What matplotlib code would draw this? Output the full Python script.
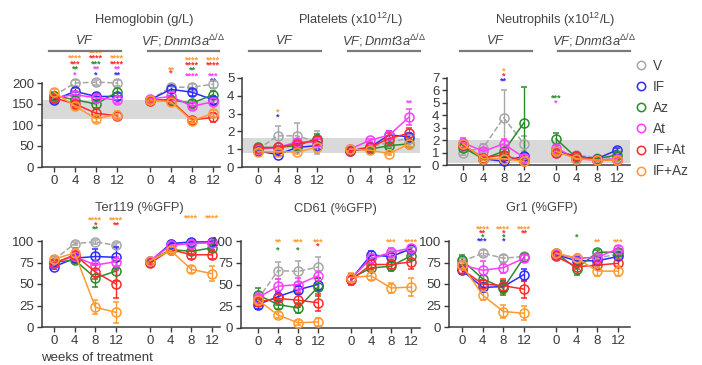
import matplotlib
matplotlib.use("Agg")
import matplotlib.pyplot as plt
from matplotlib.lines import Line2D

plt.rcParams['font.family'] = ['Liberation Sans', 'DejaVu Sans']
plt.rcParams['mathtext.fontset'] = 'custom'
plt.rcParams['mathtext.it'] = 'Liberation Sans:italic'
plt.rcParams['mathtext.rm'] = 'Liberation Sans'

W, H = 702, 365

# treatment groups and colours
groups = ["V", "IF", "Az", "At", "IF+At", "IF+Az"]
colors = ["#a6a6a6", "#2b2bff", "#2a8c2a", "#ff3cff", "#ff2a2a", "#ff9a30"]
weeks = [0, 4, 8, 12]
week_labels = ["0", "4", "8", "12", "0", "4", "8", "12"]

# each row: VF weeks 0,4,8,12 then VF;Dnmt3a weeks 0,4,8,12
hgb = [[170, 200, 202, 200, 160, 190, 190, 197],
       [160, 180, 168, 168, 160, 185, 178, 160],
       [170, 160, 150, 178, 160, 160, 152, 172],
       [165, 172, 165, 160, 162, 168, 145, 155],
       [165, 150, 128, 122, 158, 158, 112, 118],
       [178, 145, 115, 125, 160, 155, 110, 128]]
hgb_err = [[4, 6, 6, 6, 4, 8, 8, 8],
           [8, 8, 8, 8, 4, 8, 8, 10],
           [8, 8, 10, 10, 4, 8, 8, 8],
           [8, 8, 8, 8, 4, 8, 8, 8],
           [8, 8, 10, 8, 4, 6, 6, 10],
           [8, 8, 8, 8, 4, 6, 6, 8]]

plts = [[1.0, 1.75, 1.75, 1.4, 1.0, 1.1, 1.4, 1.6],
        [0.9, 0.7, 1.1, 1.2, 0.9, 1.1, 1.8, 1.7],
        [1.1, 1.1, 1.2, 1.6, 0.95, 1.0, 1.2, 1.3],
        [1.0, 1.1, 1.4, 1.4, 1.0, 1.5, 1.8, 2.8],
        [1.05, 1.1, 1.3, 1.5, 0.9, 1.1, 1.6, 1.9],
        [0.85, 0.85, 0.85, 1.1, 1.0, 0.95, 0.75, 1.3]]
plts_err = [[0.1, 0.55, 0.7, 0.65, 0.1, 0.1, 0.15, 0.2],
            [0.1, 0.1, 0.15, 0.2, 0.1, 0.1, 0.2, 0.2],
            [0.1, 0.1, 0.15, 0.25, 0.1, 0.1, 0.15, 0.15],
            [0.1, 0.1, 0.15, 0.15, 0.1, 0.1, 0.2, 0.45],
            [0.1, 0.1, 0.15, 0.2, 0.1, 0.1, 0.3, 0.3],
            [0.1, 0.1, 0.1, 0.25, 0.1, 0.1, 0.1, 0.15]]

neu = [[1.0, 1.4, 3.8, 1.7, 1.0, 0.8, 0.6, 0.6],
       [1.6, 0.5, 0.3, 0.7, 1.1, 0.7, 0.5, 1.2],
       [1.4, 0.5, 1.1, 3.4, 2.1, 0.6, 0.5, 0.8],
       [1.8, 1.1, 1.7, 0.6, 1.4, 0.5, 0.4, 0.5],
       [1.6, 0.6, 0.8, 0.3, 1.0, 0.7, 0.4, 0.4],
       [1.7, 0.5, 0.5, 0.3, 1.1, 0.5, 0.4, 0.4]]
neu_err = [[0.2, 0.3, 2.2, 0.6, 0.1, 0.1, 0.1, 0.1],
           [0.3, 0.1, 0.1, 0.2, 0.2, 0.1, 0.1, 0.2],
           [0.3, 0.1, 0.3, 2.9, 0.5, 0.1, 0.1, 0.2],
           [0.4, 0.2, 0.4, 0.2, 0.2, 0.1, 0.1, 0.1],
           [0.3, 0.1, 0.2, 0.1, 0.2, 0.1, 0.1, 0.1],
           [0.3, 0.1, 0.1, 0.1, 0.2, 0.1, 0.1, 0.1]]

ter = [[78, 97, 99, 95, 77, 96, 98, 98],
       [70, 80, 82, 81, 76, 97, 99, 99],
       [75, 78, 57, 65, 77, 90, 88, 92],
       [75, 82, 72, 76, 77, 95, 97, 98],
       [74, 84, 64, 50, 74, 90, 84, 84],
       [79, 86, 23, 17, 77, 89, 67, 62]]
ter_err = [[3, 2, 2, 3, 2, 2, 1, 1],
           [3, 4, 9, 12, 2, 2, 1, 1],
           [3, 4, 11, 12, 2, 2, 3, 3],
           [3, 4, 6, 5, 2, 2, 2, 1],
           [3, 8, 8, 16, 2, 5, 5, 5],
           [3, 4, 8, 12, 2, 3, 4, 9]]

cd61 = [[33, 66, 65, 70, 57, 80, 85, 90],
        [27, 36, 44, 50, 56, 84, 82, 91],
        [38, 27, 23, 47, 57, 69, 71, 83],
        [35, 48, 50, 60, 57, 80, 87, 92],
        [30, 34, 32, 29, 55, 73, 73, 76],
        [32, 15, 6, 7, 58, 60, 46, 47]]
cd61_err = [[5, 10, 12, 12, 5, 5, 5, 3],
            [5, 5, 5, 8, 5, 5, 5, 3],
            [8, 5, 6, 10, 5, 5, 5, 5],
            [5, 8, 8, 6, 5, 5, 5, 3],
            [5, 8, 8, 10, 5, 6, 6, 8],
            [5, 3, 3, 5, 5, 5, 6, 10]]

gr1 = [[76, 86, 80, 82, 85, 80, 80, 85],
       [66, 46, 47, 61, 84, 77, 77, 82],
       [78, 56, 45, 81, 86, 68, 87, 87],
       [72, 66, 69, 80, 85, 80, 81, 91],
       [67, 50, 48, 44, 82, 70, 72, 74],
       [72, 37, 18, 16, 86, 80, 65, 65]]
gr1_err = [[5, 3, 4, 4, 3, 3, 3, 3],
           [4, 5, 6, 7, 3, 4, 4, 4],
           [6, 5, 8, 4, 3, 7, 3, 3],
           [5, 11, 6, 4, 3, 3, 3, 3],
           [5, 5, 8, 10, 3, 3, 3, 4],
           [5, 6, 8, 8, 3, 4, 6, 6]]

# significance stars: (group, week, height, text, colour index)
hgb_stars = [(0, 4, 260, "****", 5), (0, 4, 246, "***", 4), (0, 4, 233, "**", 2), (0, 4, 220, "*", 3),
             (0, 8, 272, "****", 5), (0, 8, 260, "****", 4), (0, 8, 246, "***", 2), (0, 8, 233, "**", 3), (0, 8, 220, "*", 1),
             (0, 12, 260, "****", 5), (0, 12, 246, "****", 4), (0, 12, 233, "**", 3), (0, 12, 220, "**", 1),
             (1, 4, 232, "**", 5), (1, 4, 224, "*", 4),
             (1, 8, 255, "****", 5), (1, 8, 243, "****", 4), (1, 8, 231, "**", 2), (1, 8, 217, "****", 3),
             (1, 12, 255, "****", 5), (1, 12, 243, "****", 4), (1, 12, 217, "***", 3), (1, 12, 205, "**", 1)]
plts_stars = [(0, 4, 3.1, "*", 5), (0, 4, 2.8, "*", 1), (1, 12, 3.6, "**", 3)]
neu_stars = [(0, 8, 7.55, "*", 5), (0, 8, 7.15, "*", 4), (0, 8, 6.75, "**", 1),
             (1, 0, 5.4, "***", 2), (1, 0, 5.0, "*", 3)]
ter_stars = [(0, 8, 124, "****", 5), (0, 8, 119, "*", 4), (0, 8, 114, "**", 2),
             (0, 12, 124, "****", 5), (0, 12, 119, "**", 4),
             (1, 8, 127, "****", 5), (1, 12, 127, "****", 5)]
cd61_stars = [(0, 4, 99, "**", 5), (0, 4, 90, "*", 2), (0, 8, 99, "***", 5), (0, 8, 90, "*", 2),
              (0, 12, 99, "***", 5), (0, 12, 94, "*", 4), (1, 8, 99, "***", 5), (1, 12, 99, "****", 5)]
gr1_stars = [(0, 4, 114, "****", 5), (0, 4, 109, "**", 4), (0, 4, 105, "*", 2), (0, 4, 100, "***", 1),
             (0, 8, 114, "****", 5), (0, 8, 109, "*", 4), (0, 8, 105, "*", 2), (0, 8, 100, "*", 1),
             (0, 12, 114, "****", 5), (0, 12, 109, "**", 4),
             (1, 4, 105, "*", 2), (1, 8, 99, "**", 5), (1, 12, 99, "***", 5)]

fig = plt.figure(figsize=(W / 100, H / 100), dpi=100)
dark = "#3a3a3a"


def fx(px):
    return px / W


def fy(py):
    return 1 - py / H


def panel(vals, errs, stars, ymax, yticks, box, xpix, band=None):
    left, right, ybot, ytop = box
    p0, p12, q0 = xpix
    scale = (p12 - p0) / 12.0
    off = (q0 - p0) / scale
    ax = fig.add_axes([fx(left), fy(ybot), (right - left) / W, (ybot - ytop) / H])
    ax.set_xlim((left - p0) / scale, (right - p0) / scale)
    ax.set_ylim(0, ymax)
    if band:
        ax.axhspan(band[0], band[1], color="#d9d9d9", lw=0, zorder=0)
    for i in range(len(groups)):
        for g in range(2):
            xs = [w + off * g for w in weeks]
            ys = vals[i][4 * g:4 * g + 4]
            es = errs[i][4 * g:4 * g + 4]
            ax.errorbar(xs, ys, yerr=es, color=colors[i], ls="--" if i == 0 else "-",
                        lw=1.1, marker="o", ms=6.5, mfc="none", mec=colors[i], mew=1.1,
                        capsize=2.5, elinewidth=1, capthick=1, clip_on=False, zorder=3)
    for g, w, y, txt, c in stars:
        ax.text(w + off * g, y, txt, color=colors[c], fontsize=6.5, ha="center", va="center",
                clip_on=False, fontweight="bold")
    ax.set_xticks(weeks + [w + off for w in weeks])
    ax.set_xticklabels(week_labels)
    ax.set_yticks(yticks)
    for s in ["top", "right"]:
        ax.spines[s].set_visible(False)
    for s in ["left", "bottom"]:
        ax.spines[s].set_color(dark)
        ax.spines[s].set_linewidth(1.1)
    ax.tick_params(direction="out", length=3.5, width=1, colors=dark, labelsize=9.5, pad=2)
    return ax


def header(title, tx, lines):
    fig.text(fx(tx), fy(20), title, ha="center", va="center", fontsize=9.3, color="#444444")
    vf_lbl = r"$\mathit{VF}$"
    dn_lbl = r"$\mathit{VF;Dnmt3a}^{\Delta/\Delta}$"
    for (x0, x1), lbl in zip(lines, [vf_lbl, dn_lbl]):
        fig.add_artist(Line2D([fx(x0), fx(x1)], [fy(51), fy(51)], color="#7a7a7a", lw=1.6))
        fig.text(fx((x0 + x1) / 2), fy(41), lbl, ha="center", va="center", fontsize=9.3, color="#444444")


panel(hgb, hgb_err, hgb_stars, 200, [0, 50, 100, 150, 200], (42, 220, 167, 83), (54, 117, 150), (115, 160))
panel(plts, plts_err, plts_stars, 5, [0, 1, 2, 3, 4, 5], (242, 420, 167, 78), (258, 317, 350), (0.8, 1.65))
panel(neu, neu_err, neu_stars, 7, [0, 1, 2, 3, 4, 5, 6, 7], (447, 630, 165, 78), (463, 524, 556), (0.2, 2.0))
panel(ter, ter_err, ter_stars, 100, [0, 25, 50, 75, 100], (42, 220, 327, 241), (54, 116, 150))
panel(cd61, cd61_err, cd61_stars, 100, [0, 25, 50, 75, 100], (241, 420, 328, 241), (258, 318, 351))
panel(gr1, gr1_err, gr1_stars, 100, [0, 25, 50, 75, 100], (449, 630, 327, 241), (462, 524, 556))

header("Hemoglobin (g/L)", 144, [(49, 121), (148, 219)])
header(r"Platelets (x10$^{12}$/L)", 350, [(249, 321), (348, 420)])
header(r"Neutrophils (x10$^{12}$/L)", 555, [(460, 532), (558, 630)])

fig.text(fx(139), fy(208), "Ter119 (%GFP)", ha="center", va="center", fontsize=9.3, color="#444444")
fig.text(fx(335), fy(209), "CD61 (%GFP)", ha="center", va="center", fontsize=9.3, color="#444444")
fig.text(fx(542), fy(208), "Gr1 (%GFP)", ha="center", va="center", fontsize=9.3, color="#444444")
fig.text(fx(97), fy(358), "weeks of treatment", ha="center", va="center", fontsize=9.5, color=dark)

handles = [Line2D([], [], ls="none", marker="o", ms=6, mfc="none", mec=c, mew=1.1) for c in colors]
fig.legend(handles, groups, loc="upper left", bbox_to_anchor=(fx(637), fy(59)), frameon=False,
           fontsize=9.8, handlelength=0.6, handletextpad=0.55, labelspacing=0.52,
           borderaxespad=0, borderpad=0, labelcolor="#444444")

fig.savefig("out.png", dpi=100)
